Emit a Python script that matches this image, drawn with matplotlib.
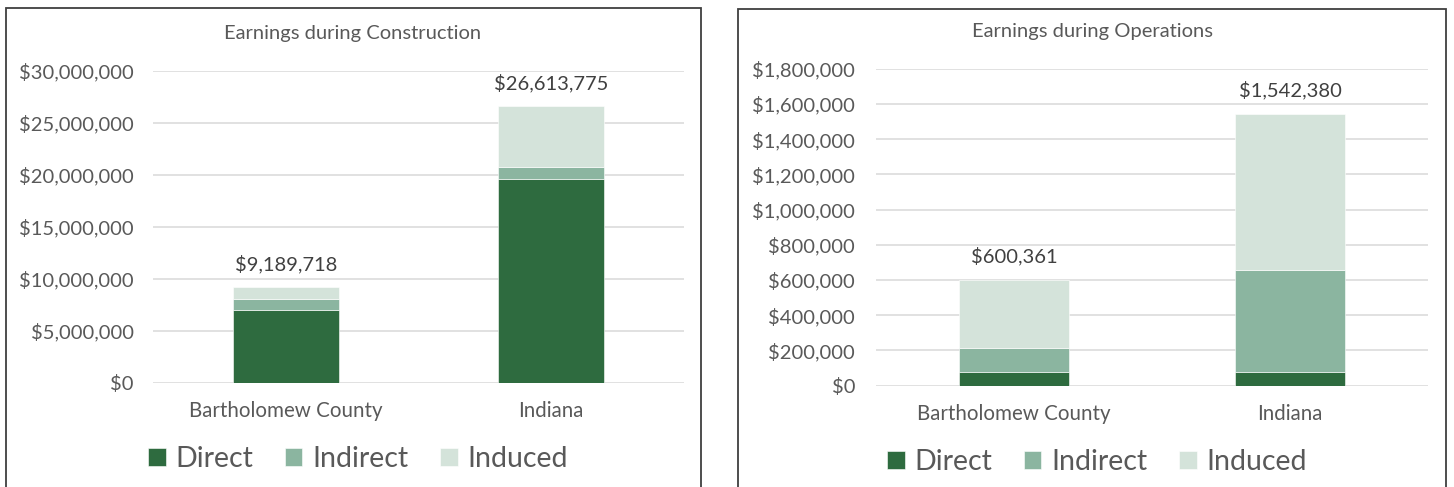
import matplotlib
matplotlib.use("Agg")
import matplotlib.pyplot as plt
from matplotlib.patches import Rectangle
from matplotlib.ticker import FuncFormatter, MultipleLocator
import numpy as np

plt.rcParams['font.family'] = ['Lato', 'DejaVu Sans']

categories = ["Bartholomew County", "Indiana"]
series_names = ["Direct", "Indirect", "Induced"]
colors = ["#2e6b3f", "#8bb5a0", "#d4e3da"]

# Earnings during construction
constr_direct = [7020000, 19600000]
constr_indirect = [1060000, 1160000]
constr_induced = [1109718, 5853775]
constr_totals = [9189718, 26613775]

# Earnings during operations
oper_direct = [78000, 78000]
oper_indirect = [134000, 581000]
oper_induced = [388361, 883380]
oper_totals = [600361, 1542380]

W, H = 1454, 487
fig = plt.figure(figsize=(W / 100, H / 100), dpi=100)
fig.patch.set_facecolor("white")

txt = "#595959"


def px(x0, y0, x1, y1):
    # pixel box (top-left origin) -> figure fraction rect
    return [x0 / W, 1 - y1 / H, (x1 - x0) / W, (y1 - y0) / H]


def panel(rect, title, title_xy, parts, totals, ymax, step, legend_xy, tick_pad):
    ax = fig.add_axes(rect)
    x = np.arange(len(categories))
    bottom = np.zeros(len(categories))
    for vals, c, name in zip(parts, colors, series_names):
        ax.bar(x, vals, width=0.4, bottom=bottom, color=c, label=name,
               edgecolor="white", linewidth=0.4, zorder=3)
        bottom = bottom + np.array(vals)
    for xi, t in zip(x, totals):
        ax.annotate("${:,.0f}".format(t), (xi, t), xytext=(0, 17),
                    textcoords="offset points", ha="center", va="center",
                    fontsize=14.5, color="#404040")
    ax.set_xlim(-0.5, 1.5)
    ax.set_ylim(0, ymax)
    ax.yaxis.set_major_locator(MultipleLocator(step))
    ax.yaxis.set_major_formatter(FuncFormatter(lambda v, p: "${:,.0f}".format(v)))
    ax.set_xticks(x)
    ax.set_xticklabels(categories)
    ax.grid(axis="y", color="#d9d9d9", linewidth=1.1, zorder=0)
    for s in ax.spines.values():
        s.set_visible(False)
    ax.tick_params(axis="y", length=0, pad=tick_pad, labelsize=14.5, labelcolor=txt)
    ax.tick_params(axis="x", length=0, pad=13, labelsize=14.8, labelcolor=txt)
    fig.text(title_xy[0] / W, 1 - title_xy[1] / H, title, ha="center", va="center",
             fontsize=14.5, color=txt)
    handles, labels = ax.get_legend_handles_labels()
    fig.legend(handles, labels, loc="center", ncol=3, frameon=False,
               bbox_to_anchor=(legend_xy[0] / W, 1 - legend_xy[1] / H),
               fontsize=20.5, labelcolor=txt, handlelength=0.62, handleheight=0.62,
               handletextpad=0.35, columnspacing=1.1, borderpad=0)
    return ax


# panel borders
fig.patches.append(Rectangle((6 / W, -0.05), 695 / W, 1.05 - 8 / H,
                             transform=fig.transFigure, fill=False,
                             edgecolor="#3f3f3f", linewidth=1.3))
fig.patches.append(Rectangle((738 / W, -0.05), 708 / W, 1.05 - 9 / H,
                             transform=fig.transFigure, fill=False,
                             edgecolor="#3f3f3f", linewidth=1.3))

panel(px(153, 71, 684, 383), "Earnings during Construction", (353, 34),
      [constr_direct, constr_indirect, constr_induced], constr_totals,
      30000000, 5000000, (358, 459), 14)

panel(px(876, 68.7, 1428, 385.7), "Earnings during Operations", (1092, 31),
      [oper_direct, oper_indirect, oper_induced], oper_totals,
      1800000, 200000, (1097, 462), 15)

fig.savefig("out.png", dpi=100, facecolor="white")
